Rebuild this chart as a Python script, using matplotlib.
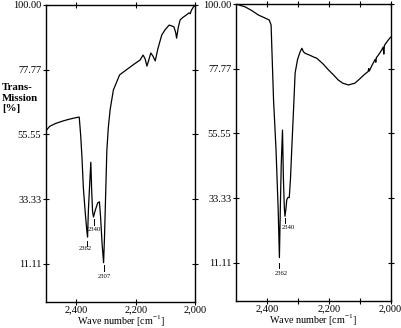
import matplotlib
matplotlib.use("Agg")
import matplotlib.pyplot as plt
from matplotlib.ticker import FixedLocator, FuncFormatter

plt.rcParams["font.family"] = ["Liberation Serif", "DejaVu Serif"]
plt.rcParams["mathtext.fontset"] = "custom"
plt.rcParams["mathtext.rm"] = "Liberation Serif"

# ── Data ─────────────────────────────────────────────────────────────────────
left_wn = [2502, 2490, 2470, 2450, 2430, 2410, 2396, 2390, 2385, 2381, 2376,
           2370, 2365, 2362, 2359, 2354, 2351, 2348, 2345, 2342, 2336, 2328,
           2322, 2318, 2313, 2308, 2305, 2301, 2297, 2292, 2286, 2275, 2254,
           2229, 2205, 2185, 2175, 2168, 2162, 2156, 2149, 2142, 2134, 2125,
           2112, 2100, 2087, 2078, 2071, 2065, 2062, 2056, 2050, 2040, 2030,
           2020, 2016, 2012, 2005, 2000]
left_t = [56.8, 58.3, 59.3, 60.0, 60.6, 61.1, 61.4, 61.5, 55.0, 48.0, 37.0,
          29.0, 23.0, 20.3, 30.0, 40.0, 46.0, 36.0, 29.0, 27.2, 29.5, 32.0,
          32.4, 27.0, 18.0, 11.5, 20.0, 35.0, 50.0, 58.0, 64.0, 70.8, 76.0,
          77.9, 79.7, 81.1, 82.8, 81.5, 79.0, 81.0, 83.5, 82.5, 80.8, 85.0,
          89.7, 91.6, 93.1, 92.8, 92.5, 90.5, 88.6, 92.5, 94.9, 95.8, 96.5,
          97.3, 97.0, 98.2, 99.4, 100.0]

right_wn = [2502, 2490, 2472, 2450, 2429, 2410, 2394, 2388, 2380, 2372, 2365,
            2361, 2358, 2355, 2351, 2348, 2345, 2343, 2340, 2337, 2333, 2329,
            2325, 2321, 2315, 2310, 2302, 2294, 2288, 2283, 2278, 2262, 2248,
            2240, 2220, 2202, 2185, 2170, 2155, 2137, 2116, 2100, 2085, 2073,
            2071, 2069, 2060, 2050, 2048, 2046, 2040, 2030, 2024, 2022, 2020,
            2010, 2000]
right_t = [100.0, 99.6, 99.0, 97.7, 96.2, 95.3, 94.5, 92.8, 67.0, 50.0, 29.4,
           12.9, 30.0, 45.0, 56.7, 40.0, 30.0, 27.1, 29.5, 32.8, 33.6, 33.5,
           40.0, 50.0, 64.0, 76.3, 81.0, 83.5, 84.8, 83.6, 83.1, 82.4, 81.7,
           81.4, 79.5, 77.4, 75.6, 73.9, 72.8, 72.2, 72.8, 74.3, 75.8, 76.8,
           77.8, 77.0, 79.0, 81.0, 80.0, 81.6, 82.4, 84.0, 85.2, 82.8, 85.8,
           87.3, 88.6]

# peak labels: (label x, label y, marker x, marker top, marker bottom, text)
left_peaks = [(2371, 16.3, 2364, 19.0, 17.2, "2362"),
              (2340, 23.0, 2340, 26.4, 24.6, "2340"),
              (2304, 6.8, 2308, 10.8, 8.6, "2307")]
right_peaks = [(2356, 7.6, 2361, 11.0, 9.2, "2362"),
               (2333, 23.2, 2343, 26.6, 24.8, "2340")]

yticks = [11.11, 33.33, 55.55, 77.77, 100.00]
xticks = [2400, 2200, 2000]
right_minor = [2300, 2100]


def style_axes(ax, minor=None):
    ax.set_xlim(2502, 2000)
    ax.set_ylim(-2, 100)
    ax.yaxis.set_major_locator(FixedLocator(yticks))
    ax.yaxis.set_major_formatter(FuncFormatter(lambda v, p: f"{v:.2f}"))
    ax.xaxis.set_major_locator(FixedLocator(xticks))
    ax.xaxis.set_major_formatter(FuncFormatter(lambda v, p: f"{int(v):,}"))
    if minor:
        ax.xaxis.set_minor_locator(FixedLocator(minor))
    ax.tick_params(which="both", direction="inout", length=5, width=0.8,
                   top=True, right=True, labelsize=7.5)
    ax.tick_params(axis="x", pad=0)
    ax.tick_params(axis="y", pad=1)
    for s in ax.spines.values():
        s.set_linewidth(1.0)
    ax.set_xlabel("Wave number [cm$^{-1}$]", fontsize=7.3, labelpad=-0.3)


def mark_peaks(ax, peaks):
    for tx, ty, mx, m0, m1, txt in peaks:
        ax.plot([mx, mx], [m0, m1], color="black", lw=0.7)
        ax.text(tx, ty, txt, fontsize=4.8, ha="center", va="center")


fig = plt.figure(figsize=(4.01, 3.28), dpi=100)
ax1 = fig.add_axes([0.1147, 0.0793, 0.3716, 0.9055])
ax2 = fig.add_axes([0.5885, 0.0823, 0.3855, 0.9055])

ax1.plot(left_wn, left_t, color="black", lw=0.9)
ax2.plot(right_wn, right_t, color="black", lw=0.9)

style_axes(ax1)
style_axes(ax2, right_minor)
mark_peaks(ax1, left_peaks)
mark_peaks(ax2, right_peaks)

fig.text(0.005, 0.70, "Trans-\nMission\n[%]", fontsize=7.8, ha="left",
         va="center", linespacing=1.2, fontweight="bold")

fig.savefig("out.png", dpi=100)
